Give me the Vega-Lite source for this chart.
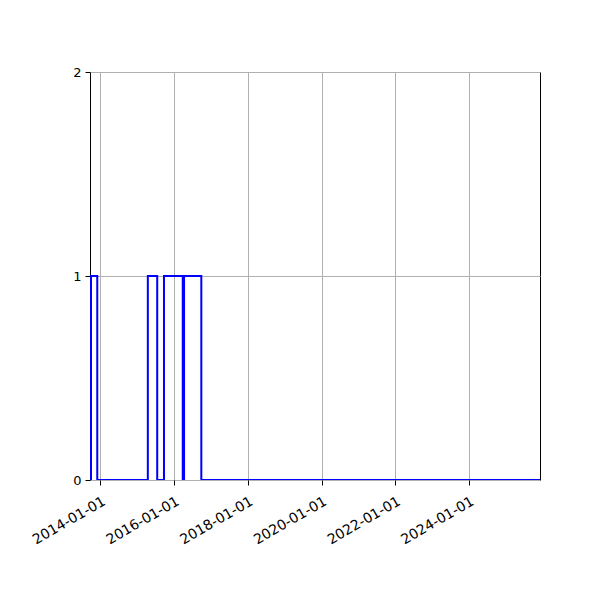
{
  "$schema": "https://vega.github.io/schema/vega-lite/v6.json",
  "width": 450,
  "height": 408,
  "autosize": "none",
  "padding": {"left": 90, "top": 72, "right": 60, "bottom": 120},
  "background": "white",
  "config": {
    "view": {"stroke": "black", "strokeWidth": 1},
    "axis": {
      "labelFont": "DejaVu Sans",
      "labelFontSize": 13,
      "labelColor": "black",
      "tickColor": "black",
      "tickSize": 5,
      "domain": false,
      "gridColor": "#b0b0b0",
      "gridWidth": 1,
      "title": null
    }
  },
  "data": {
    "values": [
      {"date": "2013-09-19", "value": 0},
      {"date": "2013-09-29", "value": 1},
      {"date": "2013-11-30", "value": 0},
      {"date": "2015-04-15", "value": 1},
      {"date": "2015-07-17", "value": 0},
      {"date": "2015-09-22", "value": 1},
      {"date": "2016-03-26", "value": 0},
      {"date": "2016-04-08", "value": 1},
      {"date": "2016-09-26", "value": 0},
      {"date": "2025-12-04", "value": 0}
    ]
  },
  "mark": {"type": "line", "interpolate": "step-after", "color": "blue", "strokeWidth": 2, "clip": true},
  "encoding": {
    "x": {
      "field": "date",
      "type": "temporal",
      "scale": {
        "type": "utc",
        "domain": [
          {"year": 2013, "month": 9, "date": 19, "utc": true},
          {"year": 2025, "month": 12, "date": 4, "utc": true}
        ]
      },
      "axis": {
        "values": [
          {"year": 2014, "month": 1, "date": 1, "utc": true},
          {"year": 2016, "month": 1, "date": 1, "utc": true},
          {"year": 2018, "month": 1, "date": 1, "utc": true},
          {"year": 2020, "month": 1, "date": 1, "utc": true},
          {"year": 2022, "month": 1, "date": 1, "utc": true},
          {"year": 2024, "month": 1, "date": 1, "utc": true}
        ],
        "labelExpr": "utcFormat(datum.value, '%Y-%m-%d')",
        "labelFontSize": 14,
        "labelAngle": -30,
        "labelAlign": "right",
        "labelBaseline": "top",
        "labelPadding": 9,
        "labelDx": -6,
        "labelFlush": false,
        "labelOverlap": false
      }
    },
    "y": {
      "field": "value",
      "type": "quantitative",
      "scale": {"domain": [0, 2], "nice": false, "zero": false},
      "axis": {"values": [0, 1, 2], "labelExpr": "format(datum.value, 'd')", "labelPadding": 4, "labelOverlap": false}
    }
  }
}
